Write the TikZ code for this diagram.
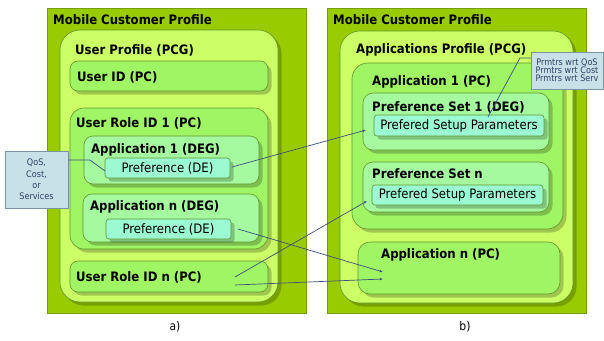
\documentclass[tikz,border=0pt]{standalone}
\usepackage{fontspec}
\setmainfont{DejaVu Sans Condensed}
\usetikzlibrary{shadows,arrows.meta}

\definecolor{panel}{RGB}{153,204,0}
\definecolor{panelline}{RGB}{118,158,0}
\definecolor{pcg}{RGB}{204,255,102}
\definecolor{pc}{RGB}{160,245,100}
\definecolor{deg}{RGB}{165,250,160}
\definecolor{de}{RGB}{155,250,210}
\definecolor{edge}{RGB}{95,150,45}
\definecolor{note}{RGB}{200,224,232}
\definecolor{noteline}{RGB}{120,150,160}
\definecolor{notetext}{RGB}{50,65,100}
\definecolor{link}{RGB}{60,80,125}

\begin{document}
\begin{tikzpicture}[x=1pt,y=-1pt,
  panelbox/.style={draw=panelline, fill=panel, line width=0.8pt, inner sep=0pt, outer sep=0pt, anchor=north west},
  framebox/.style={draw=edge, line width=0.6pt, inner sep=0pt, outer sep=0pt, anchor=north west,
    drop shadow={shadow xshift=3.5pt, shadow yshift=-3.5pt, fill=black, opacity=0.22}},
  pcgbox/.style={framebox, fill=pcg, rounded corners=20pt},
  pcbox/.style={framebox, fill=pc},
  degbox/.style={framebox, fill=deg, rounded corners=9pt},
  debox/.style={framebox, fill=de, rounded corners=3pt, font=\fontsize{13}{15}\selectfont},
  notebox/.style={draw=noteline, fill=note, line width=0.6pt, inner sep=0pt, outer sep=0pt, anchor=north west,
    align=center, text=notetext},
  title/.style={anchor=west, inner sep=0pt, font=\fontsize{13}{15}\selectfont\bfseries},
  caption/.style={inner sep=0pt, font=\fontsize{12}{14}\selectfont},
  conn/.style={draw=link, line width=0.7pt},
  tip/.style={-{Latex[length=3.2pt,width=2.6pt]}}
]
\fill[white] (0,0) rectangle (604,340);
\useasboundingbox (0,0) rectangle (604,340);

% ---------- left panel: user side ----------
\node[panelbox, minimum width=259pt, minimum height=305pt] (lpanel) at (47,8) {};
\node[title] (lptitle) at (53,20) {Mobile Customer Profile};

\node[pcgbox, minimum width=218pt, minimum height=272pt] (uprof) at (60,30) {};
\node[title] (uproft) at (75,50) {User Profile (PCG)};

\node[pcbox, rounded corners=8pt, minimum width=198pt, minimum height=30pt] (uid) at (70,61) {};
\node[title] (uidt) at (77,77) {User ID (PC)};

\node[pcbox, rounded corners=14pt, minimum width=198pt, minimum height=141pt] (role1) at (70,108) {};
\node[title] (role1t) at (76,123) {User Role ID 1 (PC)};

\node[degbox, minimum width=175pt, minimum height=48pt] (app1) at (84,136) {};
\node[title] (app1t) at (91,150) {Application 1 (DEG)};
\node[debox, minimum width=125pt, minimum height=20pt] (pde1) at (105,158) {Preference (DE)};

\node[degbox, minimum width=176pt, minimum height=48pt] (appn) at (83,194) {};
\node[title] (appnt) at (90,207) {Application n (DEG)};
\node[debox, minimum width=125pt, minimum height=20pt] (pden) at (106,219) {Preference (DE)};

\node[pcbox, rounded corners=8pt, minimum width=198pt, minimum height=31pt] (rolen) at (70,261) {};
\node[title] (rolent) at (76,277) {User Role ID n (PC)};

\node[notebox, minimum width=63pt, minimum height=57pt,
      font=\fontsize{9}{11.3}\selectfont] (qos) at (5,151) {QoS,\\Cost,\\or\\Services};

% ---------- right panel: application side ----------
\node[panelbox, minimum width=259pt, minimum height=305pt] (rpanel) at (327,8) {};
\node[title] (rptitle) at (333,20) {Mobile Customer Profile};

\node[pcgbox, minimum width=233pt, minimum height=272pt] (aprof) at (340,31) {};
\node[title] (aproft) at (356,50) {Applications Profile (PCG)};

\node[pcbox, rounded corners=16pt, minimum width=211pt, minimum height=166pt] (rapp1) at (352,63) {};
\node[title] (rapp1t) at (372,82) {Application 1 (PC)};

\node[degbox, rounded corners=10pt, minimum width=186pt, minimum height=57pt] (ps1) at (363,93) {};
\node[title] (ps1t) at (372,107) {Preference Set 1 (DEG)};
\node[debox, minimum width=170pt, minimum height=21pt] (psp1) at (374,115) {Prefered Setup Parameters};

\node[degbox, rounded corners=10pt, minimum width=186pt, minimum height=50pt] (psn) at (363,162) {};
\node[title] (psnt) at (372,174) {Preference Set n};
\node[debox, minimum width=171pt, minimum height=20pt] (pspn) at (372,185) {Prefered Setup Parameters};

\node[pcbox, rounded corners=12pt, minimum width=202pt, minimum height=52pt] (rappn) at (358,242) {};
\node[title] (rappnt) at (381,255) {Application n (PC)};

\node[notebox, minimum width=72pt, minimum height=37pt,
      font=\fontsize{9}{8}\selectfont] (prm) at (531,52) {Prmtrs wrt QoS\\Prmtrs wrt Cost\\Prmtrs wrt Serv};

% ---------- captions ----------
\node[caption] (capa) at (175,327) {a)};
\node[caption] (capb) at (465,327) {b)};

% ---------- connectors ----------
\coordinate (qa) at (68,160);
\coordinate (qb) at (90,160);
\coordinate (qc) at (105,171);
\draw[conn] (qa) -- (qb) -- (qc);

\coordinate (pa) at (531,58);
\coordinate (pb) at (520,58);
\coordinate (pc) at (488,117);
\draw[conn] (pa) -- (pb) -- (pc);

\coordinate (s1) at (232,167);
\coordinate (e1) at (366,130);
\draw[conn,tip] (s1) -- (e1);

\coordinate (s2) at (238,229);
\coordinate (e2) at (383,272);
\draw[conn,tip] (s2) -- (e2);

\coordinate (s3) at (235,277);
\coordinate (e3) at (367,201);
\draw[conn,tip] (s3) -- (e3);

\coordinate (s4) at (235,285);
\coordinate (e4) at (383,279);
\draw[conn,tip] (s4) -- (e4);
\end{tikzpicture}
\end{document}
